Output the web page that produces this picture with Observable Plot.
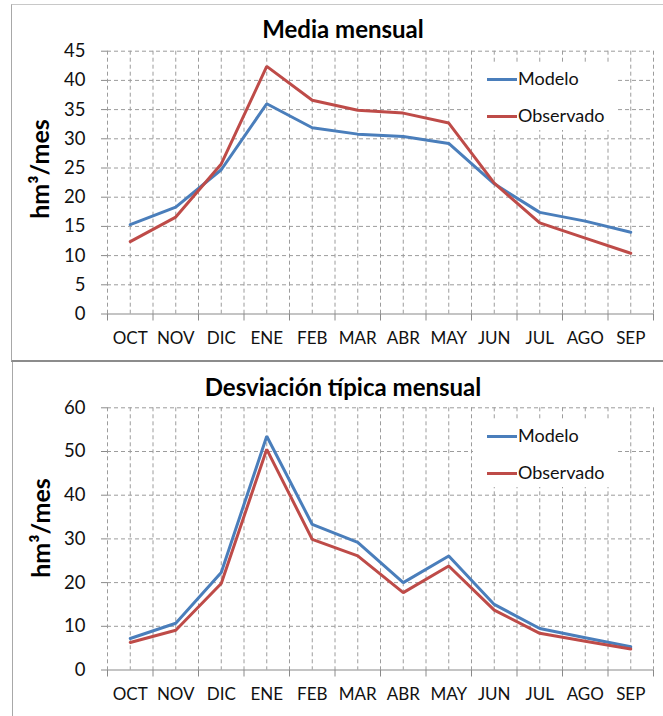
<!DOCTYPE html>
<html><head><meta charset="utf-8">
<script src="https://cdn.jsdelivr.net/npm/d3@7"></script>
<script src="https://cdn.jsdelivr.net/npm/@observablehq/plot@0.6"></script>
<style>
body{margin:0;background:#fff;font-family:Lato,"Open Sans",sans-serif;}
#root{position:relative;width:663px;height:716px;overflow:hidden;background:#fff;}
.abs{position:absolute;}
.title{position:absolute;left:0;width:686px;text-align:center;font-weight:bold;font-size:24px;color:#000;}
.ylab{position:absolute;font-weight:bold;font-size:25px;color:#000;white-space:nowrap;transform:translate(-50%,-50%) rotate(-90deg);}
.legend{position:absolute;background:#fff;}
.legend .item{position:absolute;left:14px;font-size:18px;color:#111;white-space:nowrap;}
.legend .sw{display:inline-block;width:30px;height:3px;vertical-align:middle;margin-right:1px;position:relative;top:-1px;}
</style></head><body><div id="root"></div>
<script>
const months = ["OCT","NOV","DIC","ENE","FEB","MAR","ABR","MAY","JUN","JUL","AGO","SEP"];
const mediaModelo     = [15.3, 18.3, 24.7, 36.0, 31.9, 30.8, 30.4, 29.2, 22.3, 17.4, 15.9, 14.0];
const mediaObservado  = [12.4, 16.6, 25.7, 42.4, 36.6, 34.9, 34.4, 32.7, 22.4, 15.6, 13.0, 10.4];
const desvModelo      = [7.2, 10.7, 22.3, 53.5, 33.3, 29.2, 20.0, 26.1, 15.0, 9.5, 7.4, 5.3];
const desvObservado   = [6.3, 9.1, 19.8, 50.5, 29.9, 26.1, 17.7, 23.8, 13.7, 8.4, 6.6, 4.8];
const mediaTicks = [0,5,10,15,20,25,30,35,40,45];
const desvTicks = [0,10,20,30,40,50,60];
const seriesNames = ["Modelo","Observado"];
const seriesColors = ["#4A7EBB","#BE4B48"];
const titles = ["Media mensual","Desviación típica mensual"];
const yLabel = "hm³/mes";

const root = document.getElementById("root");
const GRID = "#9c9c9c";

function panel(cfg){
  const rows = [];
  seriesNames.forEach((s,k)=>{
    const vals = k===0 ? cfg.modelo : cfg.observado;
    vals.forEach((v,i)=>rows.push({i, month: months[i], series: s, value: v}));
  });
  const half = d3.range(-0.5, months.length, 0.5);
  const bounds = d3.range(-0.5, months.length + 0.5, 1);
  const chart = Plot.plot({
    width: 663, height: cfg.height,
    marginLeft: 107, marginRight: 10, marginTop: cfg.marginTop, marginBottom: cfg.marginBottom,
    style: {fontFamily: "Lato, 'Open Sans', sans-serif", fontSize: "16px", color: "#111", background: "transparent"},
    x: {type: "linear", domain: [-0.5, months.length - 0.5], axis: null},
    y: {domain: [0, d3.max(cfg.ticks)], axis: null},
    color: {domain: seriesNames, range: seriesColors},
    marks: [
      Plot.ruleY(cfg.ticks.filter(t=>t>0), {stroke: GRID, strokeDasharray: "4,3", strokeWidth: 1}),
      Plot.ruleX(half, {stroke: GRID, strokeDasharray: "4,3", strokeWidth: 1}),
      Plot.ruleY([0], {stroke: "#8a8a8a", strokeWidth: 1.2}),
      Plot.axisX(bounds, {tickSize: 7, tickFormat: () => "", stroke: "#8a8a8a", label: null}),
      Plot.axisX(d3.range(months.length), {tickSize: 0, tickPadding: 18, tickFormat: i => months[i], fontSize: 17, fill: "#111", label: null}),
      Plot.axisY(cfg.ticks, {tickSize: 6, tickPadding: 16, stroke: "#8a8a8a", fill: "#111", fontSize: 18.5, label: null}),
      Plot.line(rows, {x: "i", y: "value", z: "series", stroke: "series", strokeWidth: 3, strokeLinejoin: "miter"})
    ]
  });
  chart.style.position = "absolute";
  chart.style.left = "0px";
  chart.style.top = cfg.top + "px";
  root.appendChild(chart);

  const t = document.createElement("div");
  t.className = "title"; t.textContent = cfg.title; t.style.top = cfg.titleTop + "px";
  root.appendChild(t);

  const yl = document.createElement("div");
  yl.className = "ylab"; yl.textContent = yLabel;
  yl.style.left = cfg.ylabX + "px"; yl.style.top = cfg.ylabY + "px";
  root.appendChild(yl);

  const lg = document.createElement("div");
  lg.className = "legend";
  lg.style.left = "473px"; lg.style.top = cfg.legendTop + "px"; lg.style.width = "144px"; lg.style.height = "68px";
  seriesNames.forEach((s,k)=>{
    const it = document.createElement("div");
    it.className = "item";
    it.style.top = (k*37 + 5) + "px";
    const sw = document.createElement("span");
    sw.className = "sw"; sw.style.background = seriesColors[k];
    it.appendChild(sw);
    it.appendChild(document.createTextNode(s));
    lg.appendChild(it);
  });
  root.appendChild(lg);
}

// panel borders
const b1 = document.createElement("div");
b1.className = "abs";
Object.assign(b1.style, {left: "11px", top: "4px", width: "651px", height: "355px", borderLeft: "1px solid #a8a8a8", borderTop: "1px solid #c8c8c8", borderBottom: "2px solid #8c8c8c"});
root.appendChild(b1);
const b2 = document.createElement("div");
b2.className = "abs";
Object.assign(b2.style, {left: "12px", top: "362px", width: "651px", height: "360px", borderLeft: "1px solid #a8a8a8"});
root.appendChild(b2);

panel({top: 0, height: 361, marginTop: 50.7, marginBottom: 47.5, ticks: mediaTicks,
  modelo: mediaModelo, observado: mediaObservado, title: titles[0], titleTop: 14,
  ylabX: 39, ylabY: 169, legendTop: 62});
panel({top: 361, height: 355, marginTop: 46.3, marginBottom: 46.5, ticks: desvTicks,
  modelo: desvModelo, observado: desvObservado, title: titles[1], titleTop: 372,
  ylabX: 40, ylabY: 528, legendTop: 419});
</script></body></html>
